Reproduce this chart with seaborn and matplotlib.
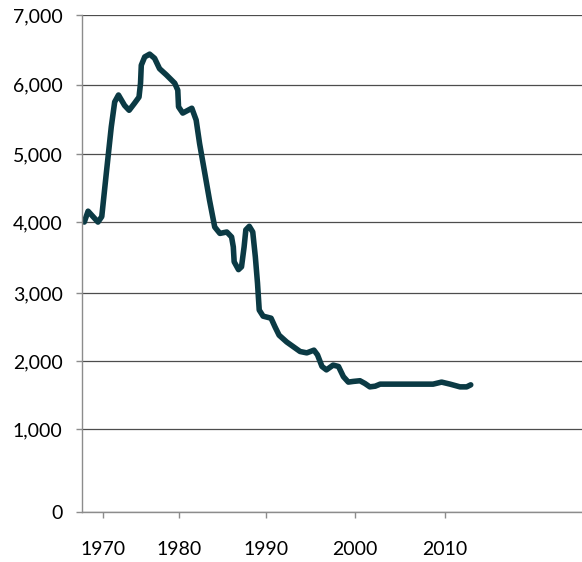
import numpy as np
import pandas as pd
import seaborn as sns
import matplotlib.pyplot as plt

# values
years = [1967.5, 1968.0, 1969.3, 1969.8, 1970.4, 1971.05, 1971.5, 1972.0, 1972.8, 1973.4,
         1974.1, 1974.7, 1974.9, 1975.0, 1975.45, 1976.1, 1976.75, 1977.4, 1978.3, 1979.4,
         1979.8, 1979.9, 1980.4, 1981.45, 1981.95, 1982.35, 1982.95, 1983.5, 1984.1, 1984.7,
         1985.5, 1986.05, 1986.25, 1986.35, 1986.85, 1987.2, 1987.5, 1987.7, 1988.1, 1988.5,
         1988.8, 1989.05, 1989.25, 1989.7, 1990.6, 1991.05, 1991.5, 1992.35, 1993.85, 1994.6,
         1995.4, 1995.8, 1996.3, 1996.8, 1997.55, 1998.15, 1998.7, 1999.25, 1999.8, 2000.55,
         2001.1, 2001.65, 2002.25, 2002.8, 2008.7, 2009.65, 2010.6, 2011.7, 2012.45, 2012.9]
values = [4000, 4160, 4000, 4080, 4720, 5390, 5750, 5850, 5700, 5630,
          5730, 5820, 6020, 6280, 6400, 6440, 6380, 6230, 6140, 6020,
          5920, 5680, 5590, 5660, 5490, 5150, 4720, 4320, 3930, 3840,
          3860, 3790, 3650, 3440, 3330, 3370, 3650, 3890, 3940, 3860,
          3510, 3140, 2750, 2660, 2630, 2500, 2380, 2280, 2140, 2120,
          2160, 2090, 1920, 1870, 1940, 1920, 1770, 1690, 1700, 1710,
          1670, 1620, 1630, 1660, 1660, 1690, 1660, 1620, 1620, 1650]

x_ticks = [1970, 1980, 1990, 2000, 2010]
x_labels = ['1970', '1980', '1990', '2000', '2010']
y_ticks = [0, 1000, 2000, 3000, 4000, 5000, 6000, 7000]
y_labels = ['0', '1,000', '2,000', '3,000', '4,000', '5,000', '6,000', '7,000']

df = pd.DataFrame({'year': years, 'value': values})

# the original axes are not evenly spaced, so use piecewise scales
xk_year = [1950, 1970, 1980, 1990, 2000, 2010, 2040]
xk_pos = [103.3 - 20 * 7.6, 103.3, 179.3, 265.7, 355.0, 444.7, 444.7 + 30 * 8.97]
yk_val = [-2000, 0, 1000, 2000, 3000, 4000, 5000, 6000, 7000, 9000]
yk_pos = [-678.9, -512.3, -429.0, -361.0, -293.0, -222.0, -154.0, -84.5, -15.3, 123.1]


def fx(v):
    return np.interp(v, xk_year, xk_pos)


def fx_inv(p):
    return np.interp(p, xk_pos, xk_year)


def fy(v):
    return np.interp(v, yk_val, yk_pos)


def fy_inv(p):
    return np.interp(p, yk_pos, yk_val)


sns.set_style('white')
plt.rcParams['font.family'] = ['Lato', 'DejaVu Sans']

fig = plt.figure(figsize=(5.82, 5.62), dpi=100)
ax = fig.add_axes([82 / 582, 49.7 / 562, 500 / 582, 496.9 / 562])

ax.set_xscale('function', functions=(fx, fx_inv))
ax.set_yscale('function', functions=(fy, fy_inv))

sns.lineplot(data=df, x='year', y='value', ax=ax, color='#0b3a44', linewidth=4.0,
             estimator=None, sort=False, solid_joinstyle='round', solid_capstyle='round')

ax.set_xlim(1967.2, 2025.3)
ax.set_ylim(0, 7000)
ax.set_xticks(x_ticks)
ax.set_xticklabels(x_labels)
ax.set_yticks(y_ticks)
ax.set_yticklabels(y_labels)
ax.set_xlabel('')
ax.set_ylabel('')

ax.grid(axis='y', color='#4d4d4d', linewidth=0.9)
ax.grid(axis='x', visible=False)
ax.set_axisbelow(True)

for side in ['top', 'right']:
    ax.spines[side].set_visible(False)
for side in ['left', 'bottom']:
    ax.spines[side].set_color('#8c8c8c')
    ax.spines[side].set_linewidth(1.0)

ax.tick_params(axis='x', direction='out', length=4, width=1, color='#8c8c8c',
               pad=17, labelsize=14, labelcolor='black', bottom=True)
ax.tick_params(axis='y', direction='out', length=4, width=1, color='#8c8c8c',
               pad=10, labelsize=14, labelcolor='black', left=True)

fig.savefig('out.png', dpi=100)
